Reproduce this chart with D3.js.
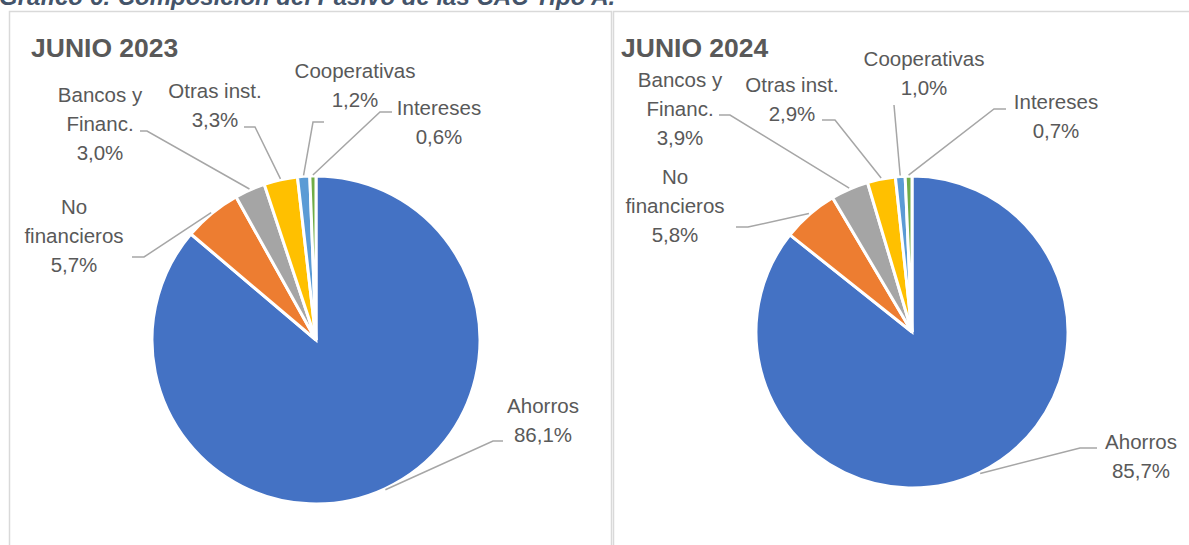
<!DOCTYPE html>
<html>
<head>
<meta charset="utf-8">
<script src="https://cdn.jsdelivr.net/npm/d3@7"></script>
<style>
  body { margin: 0; background: #fff; }
  svg { display: block; }
</style>
</head>
<body>
<script>
// composicion del pasivo, CAC tipo A
var caption = "Gráfico 6: Composición del Pasivo de las CAC Tipo A.";
var years = ["JUNIO 2023", "JUNIO 2024"];
var categories = ["Ahorros", "No financieros", "Bancos y Financ.", "Otras inst.", "Cooperativas", "Intereses"];
var labelLines = [["Ahorros"], ["No", "financieros"], ["Bancos y", "Financ."], ["Otras inst."], ["Cooperativas"], ["Intereses"]];
var values2023 = [86.1, 5.7, 3.0, 3.3, 1.2, 0.6];
var values2024 = [85.7, 5.8, 3.9, 2.9, 1.0, 0.7];

var colors = ["#4472C4", "#ED7D31", "#A5A5A5", "#FFC000", "#5B9BD5", "#70AD47"];

// where each panel and its labels sit (pixels)
var panels = [
  { box: [9, 11, 602, 560], title: [31, 57], cx: 316, cy: 340, r: 164, values: values2023,
    // label: text centre x, first baseline, leader elbow, leader end
    labels: [
      { tx: 543, ty: 413, elbow: [493, 441], end: [503, 441] },
      { tx: 74,  ty: 214, elbow: [144, 257], end: [132, 257] },
      { tx: 100, ty: 102, elbow: [147, 131], end: [140, 131] },
      { tx: 215, ty: 98,  elbow: [255, 127], end: [244, 127] },
      { tx: 355, ty: 78,  elbow: [313, 122], end: [324, 122] },
      { tx: 439, ty: 115, elbow: [380, 112], end: [392, 112] }
    ] },
  { box: [613, 11, 600, 560], title: [621, 57], cx: 912, cy: 332, r: 156, values: values2024,
    labels: [
      { tx: 1141, ty: 449, elbow: [1080, 448], end: [1097, 448] },
      { tx: 675,  ty: 184, elbow: [748, 227],  end: [736, 227] },
      { tx: 680,  ty: 87,  elbow: [730, 115],  end: [719, 115] },
      { tx: 792,  ty: 92,  elbow: [835, 120],  end: [822, 120] },
      { tx: 924,  ty: 66,  elbow: [894, 105],  end: [894, 105] },
      { tx: 1056, ty: 109, elbow: [994, 109],  end: [1006, 109] }
    ] }
];

var width = 1189, height = 545;
var lineGap = 29;
var fmt = function(v) { return d3.format(".1f")(v).replace(".", ",") + "%"; };

var svg = d3.select("body").append("svg")
    .attr("width", width)
    .attr("height", height);

// caption is cut by the top edge, as in the source image
svg.append("text")
    .text(caption)
    .attr("x", -1)
    .attr("y", 5)
    .attr("font-family", "Liberation Sans, Arial, sans-serif")
    .attr("font-size", 24)
    .attr("font-weight", "bold")
    .attr("font-style", "italic")
    .attr("fill", "#44546A");

var pie = d3.pie().sort(null).value(function(d) { return d; });

panels.forEach(function(p, pi) {
  svg.append("rect")
      .attr("x", p.box[0] + 0.5)
      .attr("y", p.box[1] + 0.5)
      .attr("width", p.box[2])
      .attr("height", p.box[3])
      .attr("fill", "none")
      .attr("stroke", "#D9D9D9")
      .attr("stroke-width", 1.5);

  svg.append("text")
      .text(years[pi])
      .attr("x", p.title[0])
      .attr("y", p.title[1])
      .attr("font-family", "Liberation Sans, Arial, sans-serif")
      .attr("font-size", 26.5)
      .attr("font-weight", "bold")
      .attr("fill", "#595959");

  var arcs = pie(p.values);
  var arc = d3.arc().innerRadius(0).outerRadius(p.r);

  var g = svg.append("g")
      .attr("transform", "translate(" + p.cx + "," + p.cy + ")");

  g.selectAll("path.slice")
      .data(arcs)
    .enter().append("path")
      .attr("class", "slice")
      .attr("d", arc)
      .attr("fill", function(d, i) { return colors[i]; })
      .attr("stroke", "#fff")
      .attr("stroke-width", 3);

  // leader lines: from the arc edge at mid angle to the label elbow
  svg.selectAll(null)
      .data(arcs)
    .enter().append("polyline")
      .attr("points", function(d, i) {
        var a = (d.startAngle + d.endAngle) / 2;
        var sx = p.cx + Math.sin(a) * (p.r + 1),
            sy = p.cy - Math.cos(a) * (p.r + 1);
        var L = p.labels[i];
        return [[sx, sy], L.elbow, L.end].map(function(q) { return q.join(","); }).join(" ");
      })
      .attr("fill", "none")
      .attr("stroke", "#A6A6A6")
      .attr("stroke-width", 1.5);

  var lab = svg.selectAll(null)
      .data(arcs)
    .enter().append("text")
      .attr("font-family", "Liberation Sans, Arial, sans-serif")
      .attr("font-size", 20.5)
      .attr("fill", "#595959")
      .attr("text-anchor", "middle");

  lab.each(function(d, i) {
    var L = p.labels[i];
    var lines = labelLines[i].concat([fmt(d.data)]);
    d3.select(this).selectAll("tspan")
        .data(lines)
      .enter().append("tspan")
        .attr("x", L.tx)
        .attr("y", function(t, k) { return L.ty + k * lineGap; })
        .text(function(t) { return t; });
  });
});
</script>
</body>
</html>
